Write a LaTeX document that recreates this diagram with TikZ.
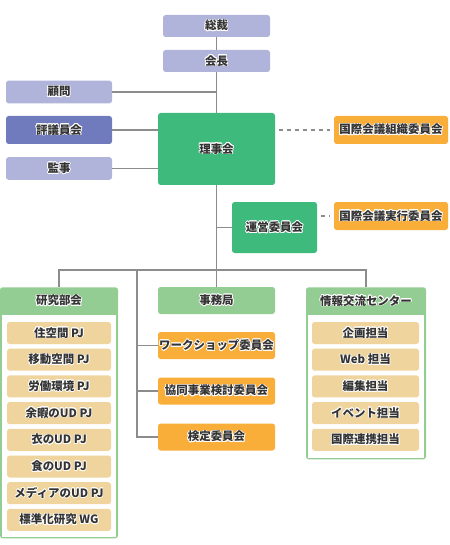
\documentclass[tikz,border=0pt]{standalone}
\usepackage{fontspec}
\setmainfont{Noto Sans CJK JP}
\usepackage{contour}
\contourlength{0.5pt}
\contournumber{16}
\usetikzlibrary{positioning}
\definecolor{lavender}{HTML}{B0B3DA}
\definecolor{indigo}{HTML}{6F7BBD}
\definecolor{boardgreen}{HTML}{3DBA7C}
\definecolor{orange}{HTML}{F9AE3A}
\definecolor{lightgreen}{HTML}{93CD93}
\definecolor{beige}{HTML}{EFD59D}
\definecolor{linegray}{HTML}{8C8C8C}
\definecolor{textdark}{HTML}{333333}
\newcommand{\halo}[1]{\contour{white}{#1}}

\begin{document}
\begin{tikzpicture}[x=0.75pt, y=-0.75pt,
    box/.style={rectangle, rounded corners=2pt, inner sep=0pt, text=textdark, font=\fontsize{8.6}{10}\selectfont\bfseries},
    topbox/.style={box, fill=lavender, minimum width=80.25pt, minimum height=16.5pt},
    sidebox/.style={box, fill=lavender, minimum width=79.5pt, minimum height=17pt},
    boardbox/.style={box, fill=boardgreen, minimum width=87.75pt, minimum height=54pt},
    confbox/.style={box, fill=orange, minimum width=85.5pt, minimum height=21pt},
    midbox/.style={box, fill=orange, minimum width=87.75pt, minimum height=20.25pt},
    groupbox/.style={rectangle, rounded corners=2pt, fill=lightgreen, inner sep=0pt, anchor=north},
    grouphead/.style={box},
    inner/.style={rectangle, fill=white, inner sep=0pt, anchor=north},
    itembox/.style={box, fill=beige, minimum height=16.5pt},
    link/.style={draw=linegray, line width=1pt},
    dashlink/.style={link, dashed, dash pattern=on 3pt off 3pt, shorten <=3pt, shorten >=3pt}]
    \useasboundingbox (0,0) rectangle (449,545);

    % top
    \node[topbox] (sousai) at (216.5,26) {\halo{総裁}};
    \node[topbox] (kaicho) at (216.5,61) {\halo{会長}};
    \node[sidebox] (komon) at (59,92) {\halo{顧問}};
    \node[sidebox, fill=indigo, minimum height=21pt] (hyogi) at (59,130) {\halo{評議員会}};
    \node[sidebox] (kanji) at (59,168.5) {\halo{監事}};
    \node[boardbox] (riji) at (216.5,149) {\halo{理事会}};
    \node[confbox] (soshiki) at (391,130) {\halo{国際会議組織委員会}};
    \node[box, fill=boardgreen, minimum width=63.75pt, minimum height=38.25pt] (unei) at (274.5,227.5) {\halo{運営委員会}};
    \node[confbox] (jikko) at (391,216) {\halo{国際会議実行委員会}};

    % lower groups
    \node[groupbox, minimum width=88.5pt, minimum height=188.25pt] (kenkyu) at (59,287) {};
    \node[inner, minimum width=85.5pt, minimum height=166.5pt] (kenkyuin) at (59,315) {};
    \node[grouphead] (kenkyuhd) at (59,301) {\halo{研究部会}};
    \node[groupbox, minimum width=90pt, minimum height=129pt] (joho) at (366,287) {};
    \node[inner, minimum width=87pt, minimum height=107.25pt] (johoin) at (366,315) {};
    \node[grouphead] (johohd) at (366,301) {\halo{情報交流センター}};
    \node[box, fill=lightgreen, minimum width=87.75pt, minimum height=20.25pt] (jimu) at (216.5,300.5) {\halo{事務局}};
    \node[midbox] (ws) at (216.5,345.5) {\halo{ワークショップ委員会}};
    \node[midbox] (kyodo) at (216.5,391) {\halo{協同事業検討委員会}};
    \node[midbox] (kentei) at (216.5,437) {\halo{検定委員会}};

    \foreach \txt [count=\i from 0] in {住空間 PJ, 移動空間 PJ, 労働環境 PJ, 余暇のUD PJ, 衣のUD PJ, 食のUD PJ, メディアのUD PJ, 標準化研究 WG}
        \node[itembox, minimum width=78pt] (pj\i) at (59,333+26.7*\i) {\halo{\txt}};
    \foreach \txt [count=\i from 0] in {企画担当, Web 担当, 編集担当, イベント担当, 国際連携担当}
        \node[itembox, minimum width=80.25pt] (tan\i) at (365.5,333+26.7*\i) {\halo{\txt}};

    % connectors
    \coordinate (bus) at (216.5,270);
    \coordinate (jimubus) at (137,270);
    \draw[link] (sousai) -- (kaicho);
    \draw[link] (kaicho) -- (riji);
    \draw[link] (komon.east) -- (komon.east -| kaicho.south);
    \draw[link] (hyogi.east) -- (hyogi.east -| riji.west);
    \draw[link] (kanji.east) -- (kanji.east -| riji.west);
    \draw[dashlink] (soshiki.west -| riji.east) -- (soshiki.west);
    \draw[dashlink] (unei.east |- jikko.west) -- (jikko.west);
    \draw[link] (riji.south) -- (bus);
    \draw[link] (unei.west -| riji.south) -- (unei.west);
    \draw[link] (kenkyu.north) |- (bus) -| (joho.north);
    \draw[link] (bus) -- (jimu.north);
    \draw[link] (jimubus) |- (kentei.west);
    \draw[link] (ws.west -| jimubus) -- (ws.west);
    \draw[link] (kyodo.west -| jimubus) -- (kyodo.west);
\end{tikzpicture}
\end{document}
